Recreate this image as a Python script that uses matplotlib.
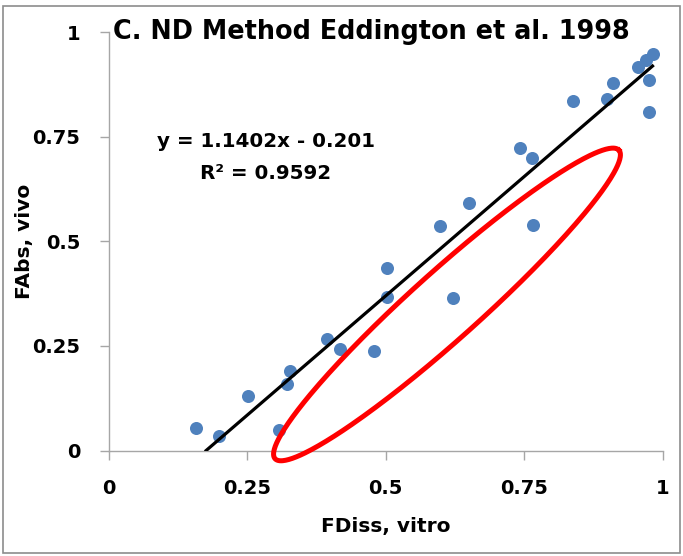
import numpy as np
import matplotlib
matplotlib.use("Agg")
import matplotlib.pyplot as plt
from matplotlib.patches import Rectangle

# Data
fdiss_vitro = [0.158, 0.200, 0.252, 0.307, 0.323, 0.328, 0.394, 0.417, 0.480,
               0.502, 0.502, 0.598, 0.621, 0.650, 0.742, 0.764, 0.767, 0.839,
               0.899, 0.911, 0.955, 0.970, 0.982, 0.976, 0.976]
fabs_vivo = [0.053, 0.035, 0.130, 0.050, 0.160, 0.191, 0.266, 0.243, 0.238,
             0.366, 0.435, 0.536, 0.364, 0.592, 0.723, 0.700, 0.540, 0.835,
             0.839, 0.877, 0.916, 0.933, 0.947, 0.885, 0.810]
slope = 1.1402
intercept = -0.201
r2 = 0.9592
ticks = [0, 0.25, 0.5, 0.75, 1]
tick_labels = ["0", "0.25", "0.5", "0.75", "1"]
title = "C. ND Method Eddington et al. 1998"

plt.rcParams['font.family'] = ['DejaVu Sans']
W, H = 683, 556
fig = plt.figure(figsize=(W / 100, H / 100), dpi=100)
x0px, x1px = 108.5, 662.5
y0px, y1px = 450.5, 32
ax = fig.add_axes([x0px / W, 1 - y0px / H, (x1px - x0px) / W, (y0px - y1px) / H])
ax.set_xlim(0, 1)
ax.set_ylim(0, 1)

ax.scatter(fdiss_vitro, fabs_vivo, s=88, color='#4f81bd', zorder=3, linewidths=0)

xs = np.array([min(fdiss_vitro), max(fdiss_vitro)])
xs[0] = max(xs[0], -intercept / slope)
ax.plot(xs, slope * xs + intercept, color='black', lw=2.3, zorder=4)

# red ellipse (annotation) drawn in pixel-proportional space
sx, sy = (x1px - x0px), (y0px - y1px)
cx, cy = 0.611, 0.349
a, b = 231.0, 34.0
th = np.deg2rad(41.9)
t = np.linspace(0, 2 * np.pi, 400)
ex = cx + (a * np.cos(t) * np.cos(th) - b * np.sin(t) * np.sin(th)) / sx
ey = cy + (a * np.cos(t) * np.sin(th) + b * np.sin(t) * np.cos(th)) / sy
ax.plot(ex, ey, color='#ff0000', lw=3.6, zorder=5, clip_on=False)

for s in ['top', 'right']:
    ax.spines[s].set_visible(False)
for s in ['left', 'bottom']:
    ax.spines[s].set_color('#a6a6a6')
    ax.spines[s].set_linewidth(1.0)
ax.set_xticks(ticks)
ax.set_xticklabels(tick_labels)
ax.set_yticks(ticks)
ax.set_yticklabels(tick_labels)
ax.tick_params(axis='both', direction='out', length=6.5, width=1.0, color='#a6a6a6',
               labelsize=14, pad=14)
for lab in ax.get_xticklabels() + ax.get_yticklabels():
    lab.set_fontweight('bold')

ax.set_xlabel("FDiss, vitro", fontsize=14.5, fontweight='bold')
ax.set_ylabel("FAbs, vivo", fontsize=14.5, fontweight='bold')
ax.xaxis.set_label_coords(0.5, -0.158)
ax.yaxis.set_label_coords(-0.135, 0.5)

ax.text(0.008, 1.0, title, transform=ax.transAxes, fontsize=18.4, fontweight='bold',
        ha='left', va='center')
ax.text(0.284, 0.70, f"y = {slope}x - {abs(intercept)}\nR² = {r2}",
        transform=ax.transAxes, fontsize=14.3, fontweight='bold',
        ha='center', va='center', linespacing=1.85)

fig.patches.append(Rectangle((3 / W, 3 / H), 677 / W, 547 / H, transform=fig.transFigure,
                             fill=False, edgecolor='#8c8c8c', lw=1.2))

fig.savefig("out.png", dpi=100)
